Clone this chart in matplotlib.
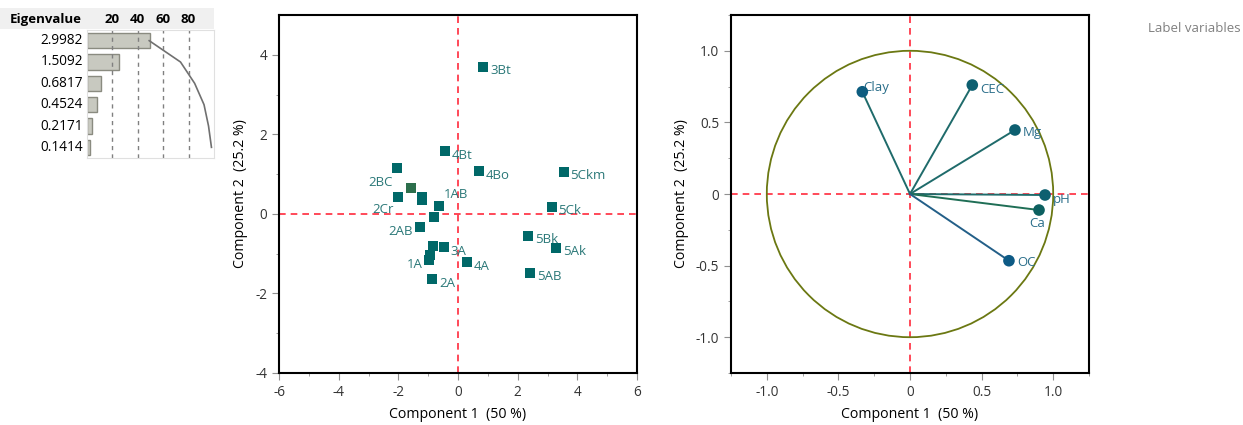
import matplotlib.pyplot as plt
import numpy as np
from matplotlib.patches import Circle, Rectangle

plt.rcParams['font.family'] = ['Open Sans', 'DejaVu Sans']
plt.rcParams['axes.unicode_minus'] = False

# eigenvalues
eigenvalues = [2.9982, 1.5092, 0.6817, 0.4524, 0.2171, 0.1414]
pct_ticks = [20, 40, 60, 80]

# scores (component 1, component 2)
score_names = ['3Bt', '4Bt', '4Bo', '5Ckm', '2BC', '', '2Cr', '', '', '1AB', '5Ck',
               '', '2AB', '5Bk', '', '3A', '5Ak', '', '1A', '4A', '5AB', '2A']
score_x = [0.84, -0.44, 0.70, 3.54, -2.03, -1.58, -2.02, -1.20, -1.22, -0.65, 3.14,
           -0.79, -1.27, 2.35, -0.83, -0.48, 3.28, -0.94, -0.96, 0.29, 2.41, -0.86]
score_y = [3.70, 1.58, 1.08, 1.06, 1.15, 0.66, 0.43, 0.43, 0.35, 0.21, 0.18,
           -0.07, -0.33, -0.55, -0.81, -0.84, -0.85, -1.03, -1.17, -1.21, -1.48, -1.64]

# loadings
var_names = ['Clay', 'CEC', 'Mg', 'pH', 'Ca', 'OC']
load_x = [-0.333, 0.435, 0.733, 0.943, 0.901, 0.691]
load_y = [0.714, 0.761, 0.447, -0.007, -0.112, -0.466]

W, H = 1243, 425
fig = plt.figure(figsize=(W / 100, H / 100), dpi=100)

def px_axes(l, t, r, b):
    return fig.add_axes([l / W, 1 - b / H, (r - l) / W, (b - t) / H])

teal = '#006868'
label_teal = '#2a7878'
red = '#ff2a3c'

# ---- eigenvalue table ----
hdr = px_axes(0, 8, 214, 29)
hdr.set_xlim(0, 214)
hdr.set_ylim(0, 1)
hdr.axis('off')
hdr.add_patch(Rectangle((0, 0), 214, 1, color='#f0f0f0'))
hdr.text(46, 0.45, 'Eigenvalue', ha='center', va='center', fontsize=9.5, fontweight='bold')

bar_ax = px_axes(87, 30, 214, 158)
pct = [100 * e / sum(eigenvalues) for e in eigenvalues]
cum = np.cumsum(pct)
rows = np.arange(len(eigenvalues))
bar_ax.barh(rows, pct, height=0.72, left=0, color='#c8c9c0', edgecolor='#8a8b80', linewidth=1)
bar_ax.plot(cum * 0.98, rows, color='#707070', linewidth=1.2)
for t in pct_ticks:
    bar_ax.axvline(t, color='#808080', linestyle=(0, (3, 3)), linewidth=1)
bar_ax.set_xlim(0, 100)
bar_ax.set_ylim(len(eigenvalues) - 0.5, -0.5)
bar_ax.set_xticks([])
bar_ax.set_yticks([])
for s in bar_ax.spines.values():
    s.set_color('#e0e0e0')
for t in pct_ticks:
    hdr.text(87 + t * 1.265, 0.45, str(t), ha='center', va='center', fontsize=9.5, fontweight='bold')
for i, e in enumerate(eigenvalues):
    fig.text(83 / W, 1 - (40 + i * 21.6) / H, '%.4f' % e, ha='right', va='center', fontsize=9.8)

# ---- score plot ----
ax = px_axes(279, 15, 637, 373)
ax.axhline(0, color=red, linestyle=(0, (4, 3)), linewidth=1.2, zorder=1)
ax.axvline(0, color=red, linestyle=(0, (4, 3)), linewidth=1.2, zorder=1)
colors = [teal] * len(score_x)
colors[5] = '#2d6f4c'
ax.scatter(score_x, score_y, marker='s', s=52, c=colors, zorder=3, linewidths=0)
special = {'2BC': (-3.6, -10, 'right'), '2Cr': (-3, -9, 'right'), '1AB': (3.6, 7.7, 'left'),
           '2AB': (-5, -3.3, 'right'), '1A': (-4.8, -3.1, 'right')}
for n, x, y in zip(score_names, score_x, score_y):
    if not n:
        continue
    dx, dy, ha = special.get(n, (5, -3, 'left'))
    ax.annotate(n, (x, y), xytext=(dx, dy), textcoords='offset points', ha=ha, va='center',
                fontsize=9.5, color=label_teal)
ax.set_xlim(-6, 6)
ax.set_ylim(-4, 5)
ax.set_xticks(range(-6, 7, 2))
ax.set_xticks(range(-6, 7), minor=True)
ax.set_yticks(range(-4, 5, 2))
ax.set_yticks(range(-4, 5), minor=True)
ax.set_xlabel('Component 1  (50 %)', fontsize=10.2, labelpad=5)
ax.set_ylabel('Component 2  (25.2 %)', fontsize=10.2, labelpad=5)

# ---- loading plot ----
lx = px_axes(731, 15, 1089, 373)
lx.axhline(0, color=red, linestyle=(0, (4, 3)), linewidth=1.2, zorder=1)
lx.axvline(0, color=red, linestyle=(0, (4, 3)), linewidth=1.2, zorder=1)
lx.add_patch(Circle((0, 0), 1, fill=False, edgecolor='#6b7812', linewidth=1.3, zorder=2))
line_cols = ['#1f6b6b', '#1f6b6b', '#1f6b6b', '#1f6b6b', '#1f6e55', '#235f88']
for x, y, c in zip(load_x, load_y, line_cols):
    lx.plot([0, x], [0, y], color=c, linewidth=1.4, zorder=3)
lx.scatter(load_x, load_y, s=70, c=['#0d5d80', '#0d5f70', '#0d5f70', '#0d6070', '#0d6060', '#0d5a85'],
           zorder=4, linewidths=0)
load_off = {'Clay': (0.7, 3, 'left'), 'CEC': (5.8, -3, 'left'), 'Mg': (5.8, -2, 'left'),
            'pH': (5.8, -3, 'left'), 'Ca': (-1, -9.5, 'center'), 'OC': (5.8, -1.5, 'left')}
for n, x, y in zip(var_names, load_x, load_y):
    dx, dy, ha = load_off[n]
    lx.annotate(n, (x, y), xytext=(dx, dy), textcoords='offset points', ha=ha, va='center',
                fontsize=9.5, color='#2a6e8a')
lx.set_xlim(-1.25, 1.25)
lx.set_ylim(-1.25, 1.25)
ticks = [-1.0, -0.5, 0, 0.5, 1.0]
tlabels = ['-1.0', '-0.5', '0', '0.5', '1.0']
lx.set_xticks(ticks)
lx.set_xticklabels(tlabels)
lx.set_yticks(ticks)
lx.set_yticklabels(tlabels)
lx.set_xticks(np.arange(-1.25, 1.26, 0.25), minor=True)
lx.set_yticks(np.arange(-1.25, 1.26, 0.25), minor=True)
lx.set_xlabel('Component 1  (50 %)', fontsize=10.2, labelpad=5)
lx.set_ylabel('Component 2  (25.2 %)', fontsize=10.2, labelpad=5)

for a in (ax, lx):
    for s in a.spines.values():
        s.set_linewidth(1.5)
    a.tick_params(which='major', length=5, color='#909090', labelsize=9.8, labelcolor='#333333')
    a.tick_params(which='minor', length=2.5, color='#909090')

fig.text(1243 / W - 0.002, 1 - 28 / H, 'Label variables', ha='right', va='center',
         fontsize=9.5, color='#808080')

fig.savefig('out.png', dpi=100)
